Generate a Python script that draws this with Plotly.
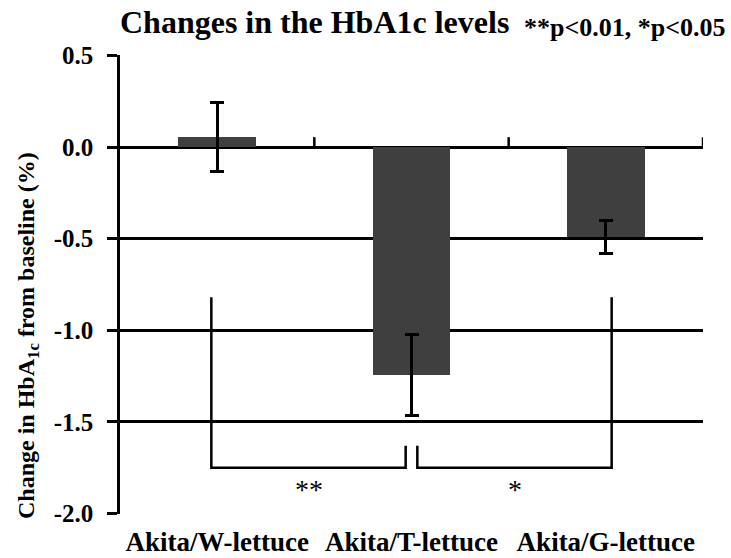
import plotly.graph_objects as go

# ---- data ----
categories = ["Akita/W-lettuce", "Akita/T-lettuce", "Akita/G-lettuce"]
hba1c_change = [0.055, -1.245, -0.49]
hba1c_error = [0.19, 0.22, 0.09]
y_tick_vals = [0.5, 0.0, -0.5, -1.0, -1.5, -2.0]
y_tick_text = ["0.5", "0.0", "-0.5", "-1.0", "-1.5", "-2.0"]

# significance brackets (category index / value units)
bracket1_x = [-0.03, -0.03, 0.97, 0.97]
bracket1_y = [-0.82, -1.75, -1.75, -1.63]
bracket2_x = [1.03, 1.03, 2.03, 2.03]
bracket2_y = [-1.63, -1.75, -1.75, -0.82]
star_labels = ["**", "*"]
star_x = [0.47, 1.535]
star_y = [-1.87, -1.87]

FONT = "Liberation Serif, Times New Roman, serif"
W, H = 731, 558
ML, MR, MT, MB = 120, 28, 55, 44
PW, PH = W - ML - MR, H - MT - MB

def px_to_paper_x(px):
    return (px - ML) / PW

def px_to_paper_y(py):
    return (H - MB - py) / PH

x_idx = list(range(len(categories)))

fig = go.Figure()
fig.add_trace(go.Bar(
    x=x_idx, y=hba1c_change, width=0.4,
    marker=dict(color="#3f3f3f", line=dict(width=0)),
    error_y=dict(type="data", array=hba1c_error, visible=True,
                 color="black", thickness=3, width=7),
    showlegend=False,
))
for bx, by in [(bracket1_x, bracket1_y), (bracket2_x, bracket2_y)]:
    fig.add_trace(go.Scatter(x=bx, y=by, mode="lines",
                             line=dict(color="black", width=2.5),
                             showlegend=False, hoverinfo="skip"))

# category boundary ticks on the zero line (pointing up)
shapes = []
for b in [i + 0.5 for i in x_idx]:
    shapes.append(dict(type="line", xref="x", yref="y",
                       x0=b, x1=b, ysizemode="pixel", yanchor=0, y0=0, y1=10,
                       line=dict(color="black", width=2.5)))

annotations = [
    dict(text="<b>Changes in the HbA1c levels</b>", xref="paper", yref="paper",
         x=px_to_paper_x(118), y=px_to_paper_y(22), xanchor="left", yanchor="middle",
         showarrow=False, font=dict(family=FONT, size=32, color="black")),
    dict(text="<b>**p&lt;0.01, *p&lt;0.05</b>", xref="paper", yref="paper",
         x=px_to_paper_x(522), y=px_to_paper_y(27), xanchor="left", yanchor="middle",
         showarrow=False, font=dict(family=FONT, size=26, color="black")),
    dict(text="<b>Change in HbA<sub>1c</sub> from baseline (%)</b>", xref="paper", yref="paper",
         x=px_to_paper_x(28), y=px_to_paper_y(336), xanchor="center", yanchor="middle",
         textangle=-90, showarrow=False, font=dict(family=FONT, size=24, color="black")),
]
for s, sx, sy in zip(star_labels, star_x, star_y):
    annotations.append(dict(text=s, x=sx, y=sy, xref="x", yref="y", showarrow=False,
                            font=dict(family=FONT, size=28, color="black")))

fig.update_layout(
    width=W, height=H,
    margin=dict(l=ML, r=MR, t=MT, b=MB, autoexpand=False),
    paper_bgcolor="white", plot_bgcolor="white",
    font=dict(family=FONT, color="black"),
    shapes=shapes, annotations=annotations,
    bargap=0,
)
fig.update_xaxes(
    range=[-0.5, 2.5], tickvals=x_idx, ticktext=["<b>%s</b>" % c for c in categories],
    showgrid=False, zeroline=False, showline=False, ticks="",
    tickfont=dict(family=FONT, size=27, color="black"), ticklabelstandoff=9,
)
fig.update_yaxes(
    range=[-2.003, 0.503], tickvals=y_tick_vals,
    ticktext=["<b>%s</b>" % t for t in y_tick_text],
    showgrid=True, gridcolor="black", gridwidth=2.5,
    zeroline=True, zerolinecolor="black", zerolinewidth=3,
    showline=True, linecolor="black", linewidth=2.5,
    ticks="outside", ticklen=10, tickwidth=2.5, tickcolor="black",
    tickfont=dict(family=FONT, size=25, color="black"), ticklabelstandoff=9,
)
fig.write_html("out.html", config={"displayModeBar": False},
               post_script="document.body.style.margin='0';document.body.style.overflow='hidden';")
